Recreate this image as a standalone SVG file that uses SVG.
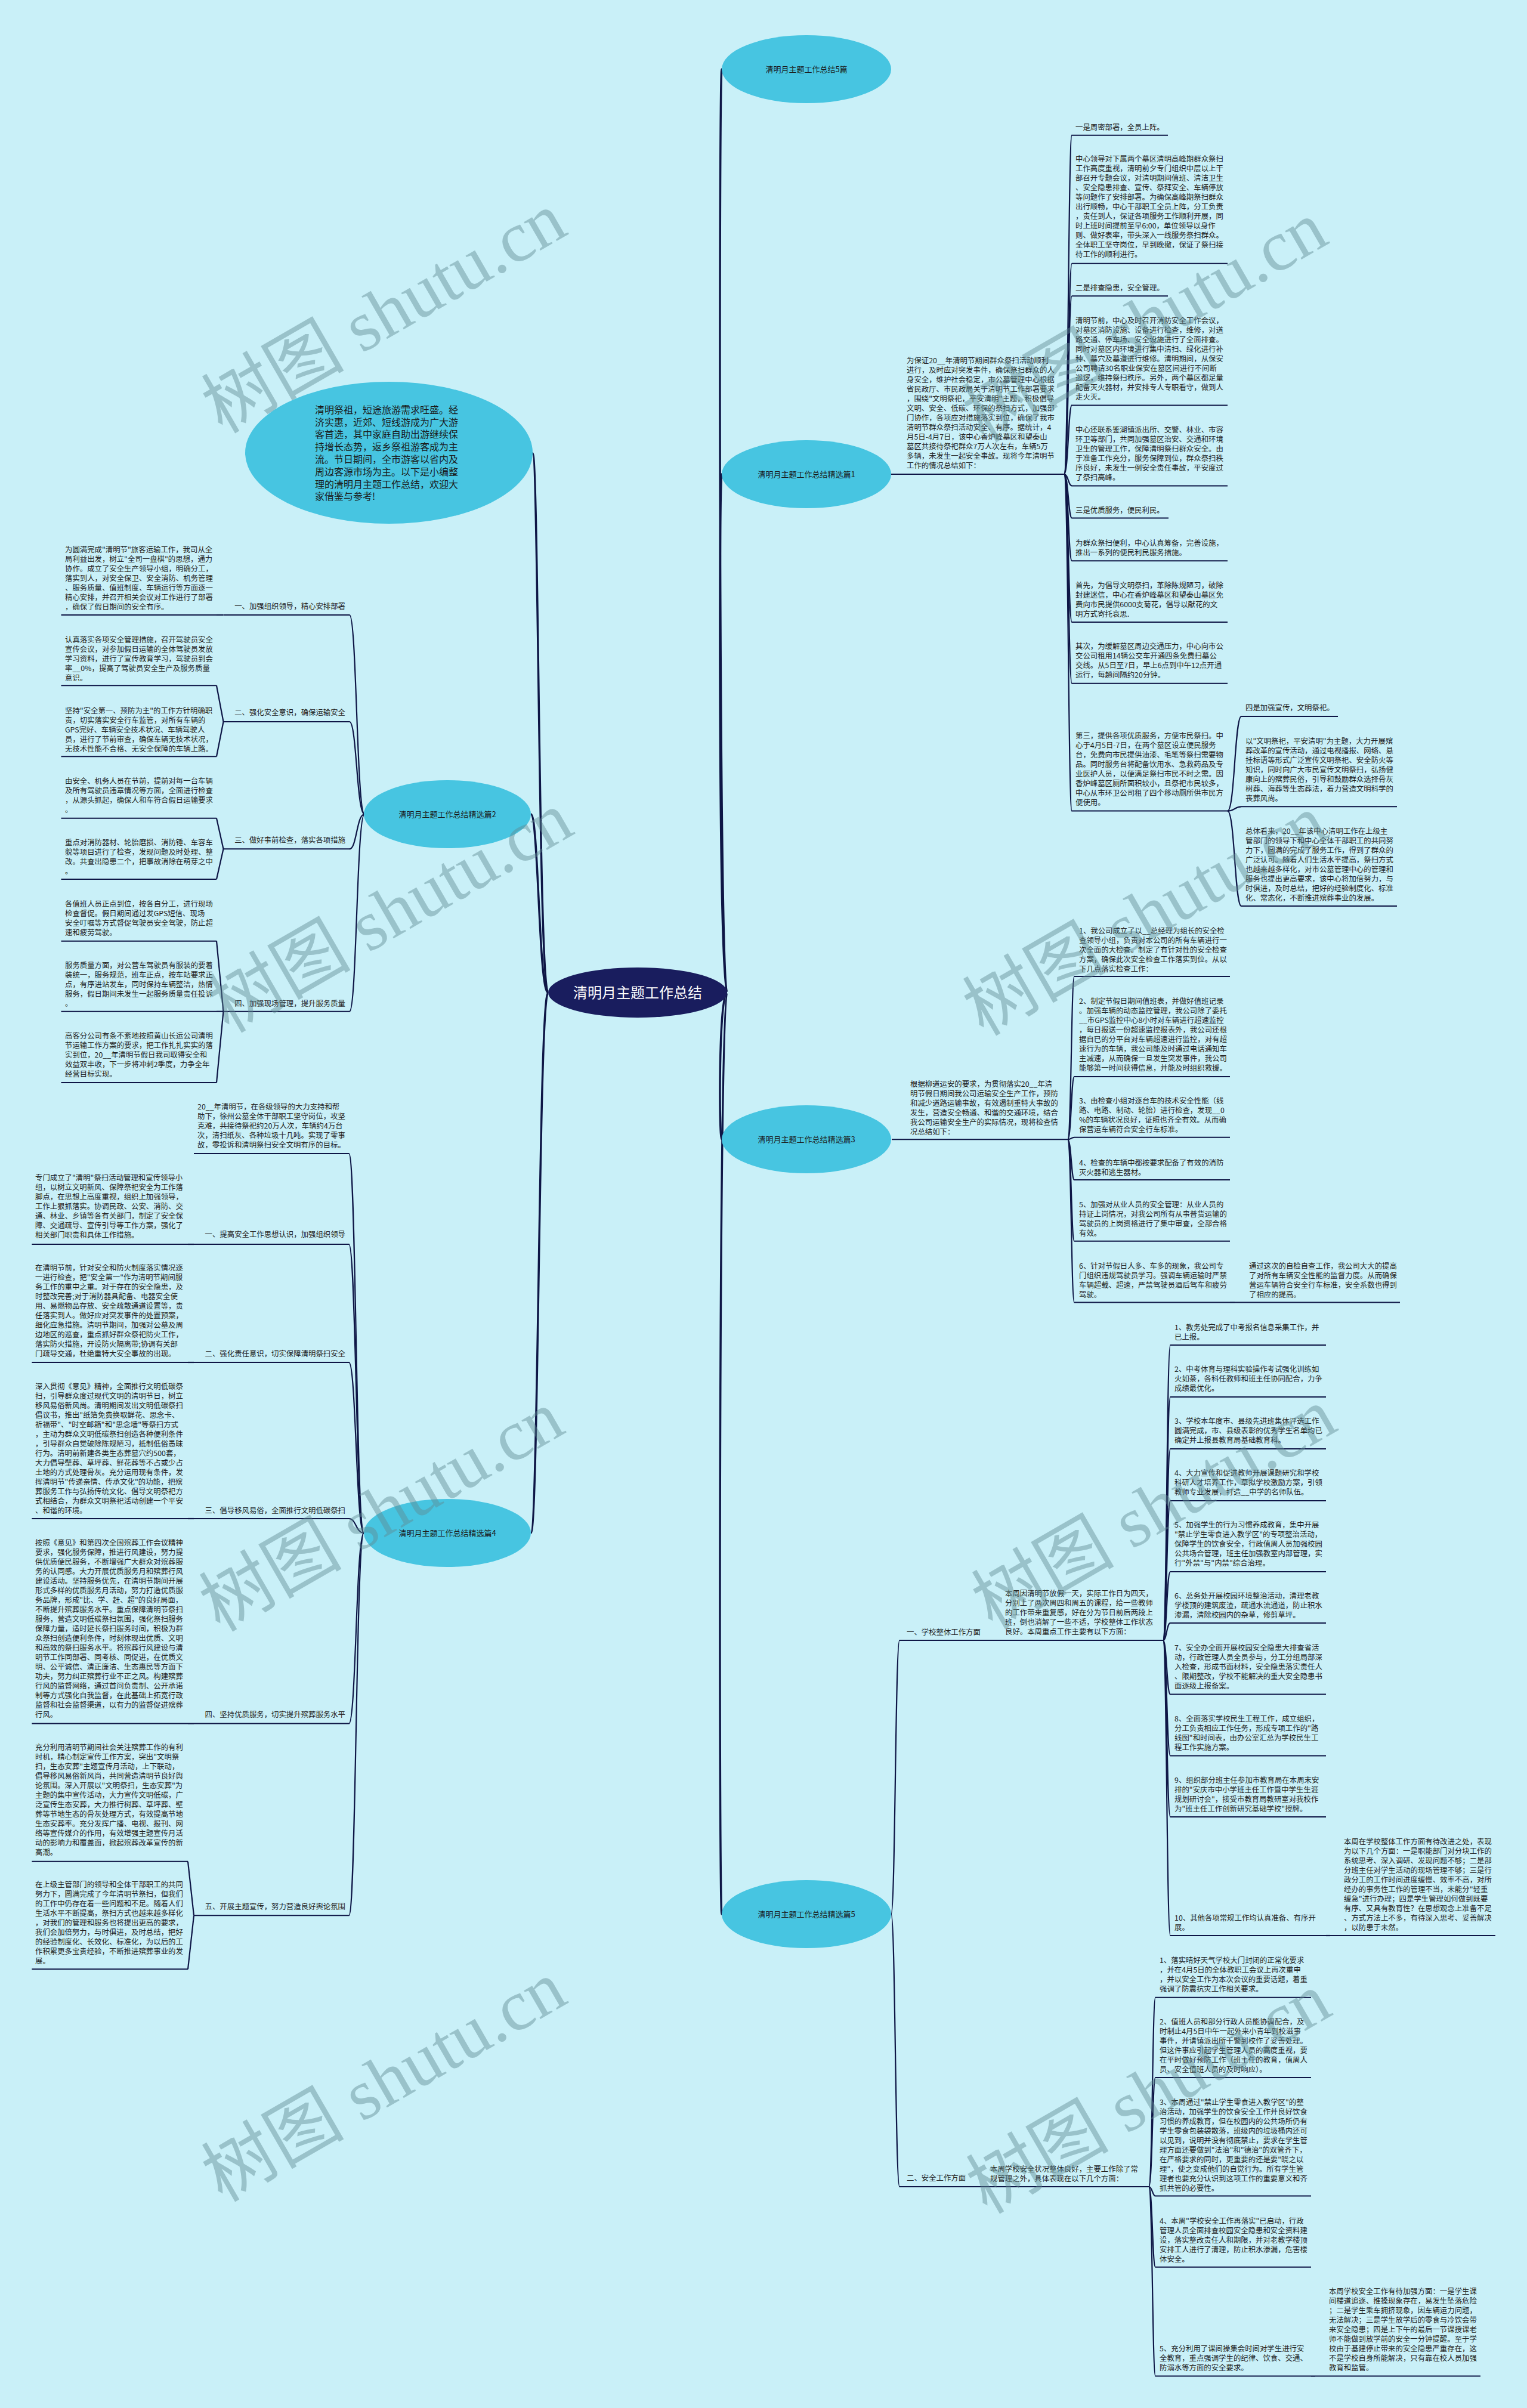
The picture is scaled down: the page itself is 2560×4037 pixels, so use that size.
<svg xmlns="http://www.w3.org/2000/svg" width="2560" height="4037" viewBox="0 0 2560 4037">
<defs>
<style>
.t{font-family:"Noto Sans CJK SC","Liberation Sans",sans-serif;font-size:12.4px;fill:#222}
.lb{font-family:"Noto Sans CJK SC","Liberation Sans",sans-serif;font-size:13px;fill:#1a1a1a;text-anchor:middle}
.ul{stroke:#0e1646;stroke-width:2;fill:none}
.c{stroke:#0e1646;stroke-width:2.2;fill:none}
.m{stroke:#0e1646;stroke-width:3.5;fill:none}
.bn{fill:#47c5e1}
.wm{font-family:"Liberation Serif","Noto Sans CJK SC",serif;font-size:120px;fill:#5f8a92;fill-opacity:0.45;text-anchor:middle}
</style>
</defs>
<rect width="2560" height="4037" fill="#c9f0f8"/>
<g id="connectors">
<path class="m" d="M1219,1664 C1205,1664 1205,116 1210,116"/>
<path class="m" d="M1219,1664 C1205,1664 1205,795 1210,795"/>
<path class="m" d="M1219,1664 C1205,1664 1205,1910 1210,1910"/>
<path class="m" d="M1219,1664 C1205,1664 1205,3209 1210,3209"/>
<path class="m" d="M919,1664 C903,1664 903,760 893,760"/>
<path class="m" d="M919,1664 C903,1664 903,1365 890,1365"/>
<path class="m" d="M919,1664 C903,1664 903,2570 890,2570"/>
<path class="c" d="M1784,795 C1791,795 1791,226.7 1797,226.7"/>
<path class="c" d="M1784,795 C1791,795 1791,441.8 1797,441.8"/>
<path class="c" d="M1784,795 C1791,795 1791,496.3 1797,496.3"/>
<path class="c" d="M1784,795 C1791,795 1791,679.4 1797,679.4"/>
<path class="c" d="M1784,795 C1791,795 1791,814.4 1797,814.4"/>
<path class="c" d="M1784,795 C1791,795 1791,868.5 1797,868.5"/>
<path class="c" d="M1784,795 C1791,795 1791,940.2 1797,940.2"/>
<path class="c" d="M1784,795 C1791,795 1791,1043 1797,1043"/>
<path class="c" d="M1784,795 C1791,795 1791,1145.8 1797,1145.8"/>
<path class="c" d="M1784,795 C1791,795 1791,1359.6 1797,1359.6"/>
<path class="c" d="M2058,1359.6 C2070,1359.6 2070,1201 2081,1201"/>
<path class="c" d="M2058,1359.6 C2070,1359.6 2070,1352.3 2081,1352.3"/>
<path class="c" d="M2058,1359.6 C2070,1359.6 2070,1519 2081,1519"/>
<path class="c" d="M1790,1910.3 C1796,1910.3 1796,1637 1801,1637"/>
<path class="c" d="M1790,1910.3 C1796,1910.3 1796,1805 1801,1805"/>
<path class="c" d="M1790,1910.3 C1796,1910.3 1796,1906.8 1801,1906.8"/>
<path class="c" d="M1790,1910.3 C1796,1910.3 1796,1978 1801,1978"/>
<path class="c" d="M1790,1910.3 C1796,1910.3 1796,2080.7 1801,2080.7"/>
<path class="c" d="M1790,1910.3 C1796,1910.3 1796,2183.5 1801,2183.5"/>
<path class="c" d="M2062,2183.5 H2070"/>
<path class="c" d="M1494,3209 C1501,3209 1501,2750 1508,2750"/>
<path class="c" d="M1494,3209 C1501,3209 1501,3666 1508,3666"/>
<path class="c" d="M1950,2750 C1956,2750 1956,2255 1962,2255"/>
<path class="c" d="M1950,2750 C1956,2750 1956,2342 1962,2342"/>
<path class="c" d="M1950,2750 C1956,2750 1956,2429 1962,2429"/>
<path class="c" d="M1950,2750 C1956,2750 1956,2516 1962,2516"/>
<path class="c" d="M1950,2750 C1956,2750 1956,2635 1962,2635"/>
<path class="c" d="M1950,2750 C1956,2750 1956,2721 1962,2721"/>
<path class="c" d="M1950,2750 C1956,2750 1956,2840.6 1962,2840.6"/>
<path class="c" d="M1950,2750 C1956,2750 1956,2943.4 1962,2943.4"/>
<path class="c" d="M1950,2750 C1956,2750 1956,3046 1962,3046"/>
<path class="c" d="M1950,2750 C1956,2750 1956,3245 1962,3245"/>
<path class="c" d="M2223,3245 H2230"/>
<path class="c" d="M1926,3666 C1932,3666 1932,3348.7 1937,3348.7"/>
<path class="c" d="M1926,3666 C1932,3666 1932,3483 1937,3483"/>
<path class="c" d="M1926,3666 C1932,3666 1932,3681.5 1937,3681.5"/>
<path class="c" d="M1926,3666 C1932,3666 1932,3800.7 1937,3800.7"/>
<path class="c" d="M1926,3666 C1932,3666 1932,3983.6 1937,3983.6"/>
<path class="c" d="M2198,3983.6 H2205"/>
<path class="c" d="M611,1365 C598,1365 598,1031 586,1031"/>
<path class="c" d="M611,1365 C598,1365 598,1210 586,1210"/>
<path class="c" d="M611,1365 C598,1365 598,1423.3 586,1423.3"/>
<path class="c" d="M611,1365 C598,1365 598,1695.7 586,1695.7"/>
<path class="c" d="M374.5,1031 L363,1031"/>
<path class="c" d="M374.5,1210 L363,1149.3"/>
<path class="c" d="M374.5,1210 L363,1268.3"/>
<path class="c" d="M374.5,1423.3 L363,1371.7"/>
<path class="c" d="M374.5,1423.3 L363,1474"/>
<path class="c" d="M374.5,1695.7 L363,1577.7"/>
<path class="c" d="M374.5,1695.7 L363,1695.7"/>
<path class="c" d="M374.5,1695.7 L363,1815"/>
<path class="c" d="M610,2570 C597,2570 597,1934 585,1934"/>
<path class="c" d="M610,2570 C597,2570 597,2086 585,2086"/>
<path class="c" d="M610,2570 C597,2570 597,2284 585,2284"/>
<path class="c" d="M610,2570 C597,2570 597,2546 585,2546"/>
<path class="c" d="M610,2570 C597,2570 597,2889.6 585,2889.6"/>
<path class="c" d="M610,2570 C597,2570 597,3211.3 585,3211.3"/>
<path class="c" d="M325,2086 L315,2086"/>
<path class="c" d="M325,2284 L315,2284"/>
<path class="c" d="M325,2546 L315,2546"/>
<path class="c" d="M325,2889.6 L315,2889.6"/>
<path class="c" d="M325,3211.3 L315,3120.8"/>
<path class="c" d="M325,3211.3 L315,3301.3"/>
</g>

<g id="center">
<ellipse cx="1069" cy="1664" rx="150" ry="42" fill="#191d5e"/>
<text x="1069" y="1672.5" style="font-family:'Noto Sans CJK SC','Liberation Sans',sans-serif;font-size:24px;fill:#ffffff;text-anchor:middle">清明月主题工作总结</text>
</g>

<g id="intro">
<ellipse cx="652" cy="759" rx="241" ry="119" class="bn"/>
<text style="font-family:'Noto Sans CJK SC','Liberation Sans',sans-serif;font-size:16px;fill:#1a1a1a" x="528" y="692.7"><tspan x="528">清明祭祖，短途旅游需求旺盛。经</tspan><tspan x="528" dy="20.8">济实惠，近郊、短线游成为广大游</tspan><tspan x="528" dy="20.8">客首选，其中家庭自助出游继续保</tspan><tspan x="528" dy="20.8">持增长态势，返乡祭祖游客成为主</tspan><tspan x="528" dy="20.8">流。节日期间，全市游客以省内及</tspan><tspan x="528" dy="20.8">周边客源市场为主。以下是小编整</tspan><tspan x="528" dy="20.8">理的清明月主题工作总结，欢迎大</tspan><tspan x="528" dy="20.8">家借鉴与参考!</tspan></text>
</g>

<g id="branch0">
<ellipse cx="1352" cy="116" rx="142" ry="57" class="bn"/>
<text class="lb" x="1352" y="120.6">清明月主题工作总结5篇</text>
</g>

<g id="branch1">
<ellipse cx="1352" cy="795" rx="142" ry="57" class="bn"/>
<text class="lb" x="1352" y="799.6">清明月主题工作总结精选篇1</text>
</g>
<g id="b1-intro">
<text class="t" x="1520" y="609.4"><tspan x="1520">为保证20__年清明节期间群众祭扫活动顺利</tspan><tspan x="1520" dy="16">进行，及时应对突发事件，确保祭扫群众的人</tspan><tspan x="1520" dy="16">身安全，维护社会稳定，市公墓管理中心根据</tspan><tspan x="1520" dy="16">省民政厅、市民政局关于清明节工作部署要求</tspan><tspan x="1520" dy="16">，围绕"文明祭祀，平安清明"主题，积极倡导</tspan><tspan x="1520" dy="16">文明、安全、低碳、环保的祭扫方式，加强部</tspan><tspan x="1520" dy="16">门协作，各项应对措施落实到位，确保了我市</tspan><tspan x="1520" dy="16">清明节群众祭扫活动安全、有序。据统计，4</tspan><tspan x="1520" dy="16">月5日-4月7日，该中心香炉峰墓区和望秦山</tspan><tspan x="1520" dy="16">墓区共接待祭祀群众7万人次左右，车辆5万</tspan><tspan x="1520" dy="16">多辆，未发生一起安全事故。现将今年清明节</tspan><tspan x="1520" dy="16">工作的情况总结如下：</tspan></text>
<path class="ul" d="M1494,795 H1784"/>
</g>
<g id="b1-1">
<text class="t" x="1803" y="218"><tspan x="1803">一是周密部署，全员上阵。</tspan></text>
<path class="ul" d="M1797,226.7 H1958"/>
</g>
<g id="b1-2">
<text class="t" x="1803" y="271.4"><tspan x="1803">中心领导对下属两个墓区清明高峰期群众祭扫</tspan><tspan x="1803" dy="16">工作高度重视，清明前夕专门组织中层以上干</tspan><tspan x="1803" dy="16">部召开专题会议，对清明期间值班、清洁卫生</tspan><tspan x="1803" dy="16">、安全隐患排查、宣传、祭拜安全、车辆停放</tspan><tspan x="1803" dy="16">等问题作了安排部署。为确保高峰期祭扫群众</tspan><tspan x="1803" dy="16">出行顺畅，中心干部职工全员上阵，分工负责</tspan><tspan x="1803" dy="16">，责任到人，保证各项服务工作顺利开展，同</tspan><tspan x="1803" dy="16">时上班时间提前至早6:00，单位领导以身作</tspan><tspan x="1803" dy="16">则、做好表率，带头深入一线服务祭扫群众。</tspan><tspan x="1803" dy="16">全体职工坚守岗位，早到晚撤，保证了祭扫接</tspan><tspan x="1803" dy="16">待工作的顺利进行。</tspan></text>
<path class="ul" d="M1797,441.8 H2058"/>
</g>
<g id="b1-3">
<text class="t" x="1803" y="487"><tspan x="1803">二是排查隐患，安全管理。</tspan></text>
<path class="ul" d="M1797,496.3 H1958"/>
</g>
<g id="b1-4">
<text class="t" x="1803" y="542.2"><tspan x="1803">清明节前，中心及时召开消防安全工作会议，</tspan><tspan x="1803" dy="16">对墓区消防设施、设备进行检查，维修，对道</tspan><tspan x="1803" dy="16">路交通、停车场、安全设施进行了全面排查。</tspan><tspan x="1803" dy="16">同时对墓区内环境进行集中清扫、绿化进行补</tspan><tspan x="1803" dy="16">种、墓穴及墓道进行维修。清明期间，从保安</tspan><tspan x="1803" dy="16">公司聘请30名职业保安在墓区间进行不间断</tspan><tspan x="1803" dy="16">巡逻，维持祭扫秩序。另外，两个墓区都足量</tspan><tspan x="1803" dy="16">配备灭火器材，并安排专人专职看守，做到人</tspan><tspan x="1803" dy="16">走火灭。</tspan></text>
<path class="ul" d="M1797,679.4 H2058"/>
</g>
<g id="b1-5">
<text class="t" x="1803" y="725"><tspan x="1803">中心还联系鉴湖镇派出所、交警、林业、市容</tspan><tspan x="1803" dy="16">环卫等部门，共同加强墓区治安、交通和环境</tspan><tspan x="1803" dy="16">卫生的管理工作，保障清明祭扫群众安全。由</tspan><tspan x="1803" dy="16">于准备工作充分，服务保障到位，群众祭扫秩</tspan><tspan x="1803" dy="16">序良好，未发生一例安全责任事故，平安度过</tspan><tspan x="1803" dy="16">了祭扫高峰。</tspan></text>
<path class="ul" d="M1797,814.4 H2058"/>
</g>
<g id="b1-6">
<text class="t" x="1803" y="859.5"><tspan x="1803">三是优质服务，便民利民。</tspan></text>
<path class="ul" d="M1797,868.5 H1959"/>
</g>
<g id="b1-7">
<text class="t" x="1803" y="914.5"><tspan x="1803">为群众祭扫便利，中心认真筹备，完善设施，</tspan><tspan x="1803" dy="16">推出一系列的便民利民服务措施。</tspan></text>
<path class="ul" d="M1797,940.2 H2058"/>
</g>
<g id="b1-8">
<text class="t" x="1803" y="986.2"><tspan x="1803">首先，为倡导文明祭扫，革除陈规陋习，破除</tspan><tspan x="1803" dy="16">封建迷信，中心在香炉峰墓区和望秦山墓区免</tspan><tspan x="1803" dy="16">费向市民提供6000支菊花，倡导以献花的文</tspan><tspan x="1803" dy="16">明方式寄托哀思.</tspan></text>
<path class="ul" d="M1797,1043 H2058"/>
</g>
<g id="b1-9">
<text class="t" x="1803" y="1088.4"><tspan x="1803">其次，为缓解墓区周边交通压力，中心向市公</tspan><tspan x="1803" dy="16">交公司租用14辆公交车开通四条免费扫墓公</tspan><tspan x="1803" dy="16">交线。从5日至7日，早上6点到中午12点开通</tspan><tspan x="1803" dy="16">运行，每趟间隔约20分钟。</tspan></text>
<path class="ul" d="M1797,1145.8 H2058"/>
</g>
<g id="b1-10">
<text class="t" x="1803" y="1238.4"><tspan x="1803">第三，提供各项优质服务，方便市民祭扫。中</tspan><tspan x="1803" dy="16">心于4月5日-7日，在两个墓区设立便民服务</tspan><tspan x="1803" dy="16">台，免费向市民提供油漆、毛笔等祭扫需要物</tspan><tspan x="1803" dy="16">品。同时服务台将配备饮用水、急救药品及专</tspan><tspan x="1803" dy="16">业医护人员，以便满足祭扫市民不时之需。因</tspan><tspan x="1803" dy="16">香炉峰墓区厕所面积较小，且祭祀市民较多，</tspan><tspan x="1803" dy="16">中心从市环卫公司租了四个移动厕所供市民方</tspan><tspan x="1803" dy="16">便使用。</tspan></text>
<path class="ul" d="M1797,1359.6 H2058"/>
</g>
<g id="b1-11">
<text class="t" x="2088" y="1191"><tspan x="2088">四是加强宣传，文明祭祀。</tspan></text>
<path class="ul" d="M2081,1201 H2243"/>
</g>
<g id="b1-12">
<text class="t" x="2088" y="1247"><tspan x="2088">以"文明祭祀，平安清明"为主题，大力开展殡</tspan><tspan x="2088" dy="16">葬改革的宣传活动，通过电视播报、网络、悬</tspan><tspan x="2088" dy="16">挂标语等形式广泛宣传文明祭祀、安全防火等</tspan><tspan x="2088" dy="16">知识，同时向广大市民宣传文明祭扫，弘扬健</tspan><tspan x="2088" dy="16">康向上的殡葬民俗，引导和鼓励群众选择骨灰</tspan><tspan x="2088" dy="16">树葬、海葬等生态葬法，着力营造文明科学的</tspan><tspan x="2088" dy="16">丧葬风尚。</tspan></text>
<path class="ul" d="M2081,1352.3 H2342"/>
</g>
<g id="b1-13">
<text class="t" x="2088" y="1397.7"><tspan x="2088">总体看来，20__年该中心清明工作在上级主</tspan><tspan x="2088" dy="16">管部门的领导下和中心全体干部职工的共同努</tspan><tspan x="2088" dy="16">力下，圆满的完成了服务工作，得到了群众的</tspan><tspan x="2088" dy="16">广泛认可。随着人们生活水平提高，祭扫方式</tspan><tspan x="2088" dy="16">也越来越多样化，对市公墓管理中心的管理和</tspan><tspan x="2088" dy="16">服务也提出更高要求，该中心将加倍努力，与</tspan><tspan x="2088" dy="16">时俱进，及时总结，把好的经验制度化、标准</tspan><tspan x="2088" dy="16">化、常态化，不断推进殡葬事业的发展。</tspan></text>
<path class="ul" d="M2081,1519 H2342"/>
</g>

<g id="branch3">
<ellipse cx="1352" cy="1910" rx="142" ry="57" class="bn"/>
<text class="lb" x="1352" y="1914.6">清明月主题工作总结精选篇3</text>
</g>
<g id="b3-intro">
<text class="t" x="1526" y="1822"><tspan x="1526">根据柳道运安的要求，为贯彻落实20__年清</tspan><tspan x="1526" dy="16">明节假日期间我公司运输安全生产工作，预防</tspan><tspan x="1526" dy="16">和减少道路运输事故，有效遏制重特大事故的</tspan><tspan x="1526" dy="16">发生，营造安全畅通、和谐的交通环境，结合</tspan><tspan x="1526" dy="16">我公司运输安全生产的实际情况，现将检查情</tspan><tspan x="1526" dy="16">况总结如下：</tspan></text>
<path class="ul" d="M1495,1910.3 H1790"/>
</g>
<g id="b3-1">
<text class="t" x="1809" y="1564.5"><tspan x="1809">1、我公司成立了以__总经理为组长的安全检</tspan><tspan x="1809" dy="16">查领导小组，负责对本公司的所有车辆进行一</tspan><tspan x="1809" dy="16">次全面的大检查。制定了有针对性的安全检查</tspan><tspan x="1809" dy="16">方案，确保此次安全检查工作落实到位。从以</tspan><tspan x="1809" dy="16">下几点落实检查工作：</tspan></text>
<path class="ul" d="M1801,1637 H2062"/>
</g>
<g id="b3-2">
<text class="t" x="1809" y="1683"><tspan x="1809">2、制定节假日期间值班表，并做好值班记录</tspan><tspan x="1809" dy="16">。加强车辆的动态监控管理，我公司除了委托</tspan><tspan x="1809" dy="16">__市GPS监控中心8小时对车辆进行超速监控</tspan><tspan x="1809" dy="16">，每日报送一份超速监控报表外，我公司还根</tspan><tspan x="1809" dy="16">据自已的分平台对车辆超速进行监控，对有超</tspan><tspan x="1809" dy="16">速行为的车辆，我公司能及时通过电话通知车</tspan><tspan x="1809" dy="16">主减速，从而确保一旦发生突发事件，我公司</tspan><tspan x="1809" dy="16">能够第一时间获得信息，并能及时组织救援。</tspan></text>
<path class="ul" d="M1801,1805 H2062"/>
</g>
<g id="b3-3">
<text class="t" x="1809" y="1850"><tspan x="1809">3、由检查小组对逐台车的技术安全性能（线</tspan><tspan x="1809" dy="16">路、电路、制动、轮胎）进行检查，发现__0</tspan><tspan x="1809" dy="16">%的车辆状况良好，证照也齐全有效。从而确</tspan><tspan x="1809" dy="16">保营运车辆符合安全行车标准。</tspan></text>
<path class="ul" d="M1801,1906.8 H2062"/>
</g>
<g id="b3-4">
<text class="t" x="1809" y="1953.7"><tspan x="1809">4、检查的车辆中都按要求配备了有效的消防</tspan><tspan x="1809" dy="16">灭火器和逃生器材。</tspan></text>
<path class="ul" d="M1801,1978 H2062"/>
</g>
<g id="b3-5">
<text class="t" x="1809" y="2024"><tspan x="1809">5、加强对从业人员的安全管理：从业人员的</tspan><tspan x="1809" dy="16">持证上岗情况，对我公司所有从事普货运输的</tspan><tspan x="1809" dy="16">驾驶员的上岗资格进行了集中审查，全部合格</tspan><tspan x="1809" dy="16">有效。</tspan></text>
<path class="ul" d="M1801,2080.7 H2062"/>
</g>
<g id="b3-6">
<text class="t" x="1809" y="2127.2"><tspan x="1809">6、针对节假日人多、车多的现象，我公司专</tspan><tspan x="1809" dy="16">门组织违规驾驶员学习。强调车辆运输时严禁</tspan><tspan x="1809" dy="16">车辆超载、超速，严禁驾驶员酒后驾车和疲劳</tspan><tspan x="1809" dy="16">驾驶。</tspan></text>
<path class="ul" d="M1801,2183.5 H2062"/>
</g>
<g id="b3-7">
<text class="t" x="2094" y="2127.2"><tspan x="2094">通过这次的自检自查工作，我公司大大的提高</tspan><tspan x="2094" dy="16">了对所有车辆安全性能的监督力度。从而确保</tspan><tspan x="2094" dy="16">营运车辆符合安全行车标准，安全系数也得到</tspan><tspan x="2094" dy="16">了相应的提高。</tspan></text>
<path class="ul" d="M2070,2183.5 H2347"/>
</g>

<g id="branch5">
<ellipse cx="1352" cy="3209" rx="142" ry="57" class="bn"/>
<text class="lb" x="1352" y="3213.6">清明月主题工作总结精选篇5</text>
</g>
<g id="b5-a">
<text class="t" x="1520" y="2740.5"><tspan x="1520">一、学校整体工作方面</tspan></text>
<path class="ul" d="M1508,2750 H1652"/>
</g>
<g id="b5-a0">
<text class="t" x="1685" y="2676.4"><tspan x="1685">本周因清明节放假一天，实际工作日为四天，</tspan><tspan x="1685" dy="16">分别上了两次周四和周五的课程，给一些教师</tspan><tspan x="1685" dy="16">的工作带来重复感，好在分为节日前后两段上</tspan><tspan x="1685" dy="16">班，倒也消解了一些不适，学校整体工作状态</tspan><tspan x="1685" dy="16">良好。本周重点工作主要有以下方面：</tspan></text>
<path class="ul" d="M1652,2750 H1950"/>
</g>
<g id="b5-a1">
<text class="t" x="1969" y="2229.8"><tspan x="1969">1、教务处完成了中考报名信息采集工作，并</tspan><tspan x="1969" dy="16">已上报。</tspan></text>
<path class="ul" d="M1962,2255 H2223"/>
</g>
<g id="b5-a2">
<text class="t" x="1969" y="2300.4"><tspan x="1969">2、中考体育与理科实验操作考试强化训练如</tspan><tspan x="1969" dy="16">火如荼，各科任教师和班主任协同配合，力争</tspan><tspan x="1969" dy="16">成绩最优化。</tspan></text>
<path class="ul" d="M1962,2342 H2223"/>
</g>
<g id="b5-a3">
<text class="t" x="1969" y="2387.4"><tspan x="1969">3、学校本年度市、县级先进班集体评选工作</tspan><tspan x="1969" dy="16">圆满完成，市、县级表彰的优秀学生名单均已</tspan><tspan x="1969" dy="16">确定并上报县教育局基础教育科。</tspan></text>
<path class="ul" d="M1962,2429 H2223"/>
</g>
<g id="b5-a4">
<text class="t" x="1969" y="2474.4"><tspan x="1969">4、大力宣传和促进教师开展课题研究和学校</tspan><tspan x="1969" dy="16">科研人才培养工作，草拟学校激励方案，引领</tspan><tspan x="1969" dy="16">教师专业发展，打造__中学的名师队伍。</tspan></text>
<path class="ul" d="M1962,2516 H2223"/>
</g>
<g id="b5-a5">
<text class="t" x="1969" y="2561.4"><tspan x="1969">5、加强学生的行为习惯养成教育，集中开展</tspan><tspan x="1969" dy="16">"禁止学生零食进入教学区"的专项整治活动，</tspan><tspan x="1969" dy="16">保障学生的饮食安全，行政值周人员加强校园</tspan><tspan x="1969" dy="16">公共场合管理，班主任加强教室内部管理，实</tspan><tspan x="1969" dy="16">行"外禁"与"内禁"综合治理。</tspan></text>
<path class="ul" d="M1962,2635 H2223"/>
</g>
<g id="b5-a6">
<text class="t" x="1969" y="2680.4"><tspan x="1969">6、总务处开展校园环境整治活动，清理老教</tspan><tspan x="1969" dy="16">学楼顶的建筑废渣，疏通水流通道，防止积水</tspan><tspan x="1969" dy="16">渗漏，清除校园内的杂草，修剪草坪。</tspan></text>
<path class="ul" d="M1962,2721 H2223"/>
</g>
<g id="b5-a7">
<text class="t" x="1969" y="2767.4"><tspan x="1969">7、安全办全面开展校园安全隐患大排查省活</tspan><tspan x="1969" dy="16">动，行政管理人员全员参与，分工分组局部深</tspan><tspan x="1969" dy="16">入检查，形成书面材料，安全隐患落实责任人</tspan><tspan x="1969" dy="16">、限期整改，学校不能解决的重大安全隐患书</tspan><tspan x="1969" dy="16">面逐级上报备案。</tspan></text>
<path class="ul" d="M1962,2840.6 H2223"/>
</g>
<g id="b5-a8">
<text class="t" x="1969" y="2886.4"><tspan x="1969">8、全面落实学校民生工程工作，成立组织，</tspan><tspan x="1969" dy="16">分工负责相应工作任务，形成专项工作的"路</tspan><tspan x="1969" dy="16">线图"和时间表，由办公室汇总为学校民生工</tspan><tspan x="1969" dy="16">程工作实施方案。</tspan></text>
<path class="ul" d="M1962,2943.4 H2223"/>
</g>
<g id="b5-a9">
<text class="t" x="1969" y="2989.4"><tspan x="1969">9、组织部分班主任参加市教育局在本周末安</tspan><tspan x="1969" dy="16">排的"安庆市中小学班主任工作暨中学生生涯</tspan><tspan x="1969" dy="16">规划研讨会"，接受市教育局教研室对我校作</tspan><tspan x="1969" dy="16">为"班主任工作创新研究基础学校"授牌。</tspan></text>
<path class="ul" d="M1962,3046 H2223"/>
</g>
<g id="b5-a10">
<text class="t" x="1969" y="3220.4"><tspan x="1969">10、其他各项常规工作均认真准备、有序开</tspan><tspan x="1969" dy="16">展。</tspan></text>
<path class="ul" d="M1962,3245 H2223"/>
</g>
<g id="b5-a11">
<text class="t" x="2253" y="3092"><tspan x="2253">本周在学校整体工作方面有待改进之处，表现</tspan><tspan x="2253" dy="16">为以下几个方面：一是职能部门对分块工作的</tspan><tspan x="2253" dy="16">系统思考、深入调研、发现问题不够；二是部</tspan><tspan x="2253" dy="16">分班主任对学生活动的现场管理不够；三是行</tspan><tspan x="2253" dy="16">政分工的工作时间进度缓慢、效率不高，对所</tspan><tspan x="2253" dy="16">经办的事务性工作的管理不当，未能分"轻重</tspan><tspan x="2253" dy="16">缓急"进行办理；四是学生管理如何做到既要</tspan><tspan x="2253" dy="16">有序、又具有教育性？在思想观念上准备不足</tspan><tspan x="2253" dy="16">、方式方法上不多，有待深入思考、妥善解决</tspan><tspan x="2253" dy="16">，以防患于未然。</tspan></text>
<path class="ul" d="M2230,3245 H2507"/>
</g>
<g id="b5-b">
<text class="t" x="1520" y="3656.4"><tspan x="1520">二、安全工作方面</tspan></text>
<path class="ul" d="M1508,3666 H1640"/>
</g>
<g id="b5-b0">
<text class="t" x="1660" y="3640.7"><tspan x="1660">本周学校安全状况整体良好，主要工作除了常</tspan><tspan x="1660" dy="16">规管理之外，具体表现在以下几个方面：</tspan></text>
<path class="ul" d="M1640,3666 H1926"/>
</g>
<g id="b5-b1">
<text class="t" x="1944" y="3291"><tspan x="1944">1、落实晴好天气学校大门封闭的正常化要求</tspan><tspan x="1944" dy="16">，并在4月5日的全体教职工会议上再次重申</tspan><tspan x="1944" dy="16">，并以安全工作为本次会议的重要话题，着重</tspan><tspan x="1944" dy="16">强调了防震抗灾工作相关要求。</tspan></text>
<path class="ul" d="M1937,3348.7 H2198"/>
</g>
<g id="b5-b2">
<text class="t" x="1944" y="3394.4"><tspan x="1944">2、值班人员和部分行政人员能协调配合，及</tspan><tspan x="1944" dy="16">时制止4月5日中午一起外来小青年到校滋事</tspan><tspan x="1944" dy="16">事件，并请镇派出所干警到校作了妥善处理。</tspan><tspan x="1944" dy="16">但这件事应引起学生管理人员的高度重视，要</tspan><tspan x="1944" dy="16">在平时做好预防工作（班主任的教育，值周人</tspan><tspan x="1944" dy="16">员、安全值班人员的及时响应）。</tspan></text>
<path class="ul" d="M1937,3483 H2198"/>
</g>
<g id="b5-b3">
<text class="t" x="1944" y="3529"><tspan x="1944">3、本周通过"禁止学生零食进入教学区"的整</tspan><tspan x="1944" dy="16">治活动，加强学生的饮食安全工作并良好饮食</tspan><tspan x="1944" dy="16">习惯的养成教育，但在校园内的公共场所仍有</tspan><tspan x="1944" dy="16">学生零食包装袋散落，班级内的垃圾桶内还可</tspan><tspan x="1944" dy="16">以见到，说明并没有彻底禁止，要求在学生管</tspan><tspan x="1944" dy="16">理方面还要做到"法治"和"德治"的双管齐下，</tspan><tspan x="1944" dy="16">在严格要求的同时，更重要的还是要"晓之以</tspan><tspan x="1944" dy="16">理"，使之变成他们的自觉行为。所有学生管</tspan><tspan x="1944" dy="16">理者也要充分认识到这项工作的重要意义和齐</tspan><tspan x="1944" dy="16">抓共管的必要性。</tspan></text>
<path class="ul" d="M1937,3681.5 H2198"/>
</g>
<g id="b5-b4">
<text class="t" x="1944" y="3727.7"><tspan x="1944">4、本周"学校安全工作再落实"已启动，行政</tspan><tspan x="1944" dy="16">管理人员全面排查校园安全隐患和安全资料建</tspan><tspan x="1944" dy="16">设，落实整改责任人和期限，并对老教学楼顶</tspan><tspan x="1944" dy="16">安排工人进行了清理，防止积水渗漏，危害楼</tspan><tspan x="1944" dy="16">体安全。</tspan></text>
<path class="ul" d="M1937,3800.7 H2198"/>
</g>
<g id="b5-b5">
<text class="t" x="1944" y="3942"><tspan x="1944">5、充分利用了课间操集会时间对学生进行安</tspan><tspan x="1944" dy="16">全教育，重点强调学生的纪律、饮食、交通、</tspan><tspan x="1944" dy="16">防溺水等方面的安全要求。</tspan></text>
<path class="ul" d="M1937,3983.6 H2198"/>
</g>
<g id="b5-b6">
<text class="t" x="2228" y="3846.2"><tspan x="2228">本周学校安全工作有待加强方面：一是学生课</tspan><tspan x="2228" dy="16">间楼道追逐、推搡现象存在，易发生坠落危险</tspan><tspan x="2228" dy="16">；二是学生乘车拥挤现象，因车辆运力问题，</tspan><tspan x="2228" dy="16">无法解决；三是学生放学后的零食与冷饮会带</tspan><tspan x="2228" dy="16">来安全隐患；四是上下午的最后一节课授课老</tspan><tspan x="2228" dy="16">师不能做到放学前的安全一分钟提醒。至于学</tspan><tspan x="2228" dy="16">校由于基建停止带来的安全隐患严重存在，这</tspan><tspan x="2228" dy="16">不是学校自身所能解决，只有靠在校人员加强</tspan><tspan x="2228" dy="16">教育和监管。</tspan></text>
<path class="ul" d="M2205,3983.6 H2482"/>
</g>

<g id="branch2">
<ellipse cx="750" cy="1365" rx="140" ry="57" class="bn"/>
<text class="lb" x="750" y="1369.6">清明月主题工作总结精选篇2</text>
</g>
<g id="b2-l1">
<text class="t" x="579" y="1021" text-anchor="end">一、加强组织领导，精心安排部署</text>
<path class="ul" d="M374.5,1031 H586"/>
</g>
<g id="b2-l1a">
<text class="t" x="109" y="926"><tspan x="109">为圆满完成"清明节"旅客运输工作，我司从全</tspan><tspan x="109" dy="16">局利益出发，树立"全司一盘棋"的思想，通力</tspan><tspan x="109" dy="16">协作。成立了安全生产领导小组，明确分工，</tspan><tspan x="109" dy="16">落实到人，对安全保卫、安全消防、机务管理</tspan><tspan x="109" dy="16">、服务质量、值班制度、车辆运行等方面逐一</tspan><tspan x="109" dy="16">精心安排，并召开相关会议对工作进行了部署</tspan><tspan x="109" dy="16">，确保了假日期间的安全有序。</tspan></text>
<path class="ul" d="M102.5,1031 H363"/>
</g>
<g id="b2-l2">
<text class="t" x="579" y="1199.4" text-anchor="end">二、强化安全意识，确保运输安全</text>
<path class="ul" d="M374.5,1210 H586"/>
</g>
<g id="b2-l2a">
<text class="t" x="109" y="1076.7"><tspan x="109">认真落实各项安全管理措施，召开驾驶员安全</tspan><tspan x="109" dy="16">宣传会议，对参加假日运输的全体驾驶员发放</tspan><tspan x="109" dy="16">学习资料，进行了宣传教育学习，驾驶员到会</tspan><tspan x="109" dy="16">率__0%，提高了驾驶员安全生产及服务质量</tspan><tspan x="109" dy="16">意识。</tspan></text>
<path class="ul" d="M102.5,1149.3 H363"/>
</g>
<g id="b2-l2b">
<text class="t" x="109" y="1196"><tspan x="109">坚持"安全第一、预防为主"的工作方针明确职</tspan><tspan x="109" dy="16">责，切实落实安全行车监管，对所有车辆的</tspan><tspan x="109" dy="16">GPS完好、车辆安全技术状况、车辆驾驶人</tspan><tspan x="109" dy="16">员，进行了节前审查，确保车辆无技术状况，</tspan><tspan x="109" dy="16">无技术性能不合格、无安全保障的车辆上路。</tspan></text>
<path class="ul" d="M102.5,1268.3 H363"/>
</g>
<g id="b2-l3">
<text class="t" x="579" y="1413.4" text-anchor="end">三、做好事前检查，落实各项措施</text>
<path class="ul" d="M374.5,1423.3 H586"/>
</g>
<g id="b2-l3a">
<text class="t" x="109" y="1314.4"><tspan x="109">由安全、机务人员在节前，提前对每一台车辆</tspan><tspan x="109" dy="16">及所有驾驶员违章情况等方面，全面进行检查</tspan><tspan x="109" dy="16">，从源头抓起，确保人和车符合假日运输要求</tspan><tspan x="109" dy="16">。</tspan></text>
<path class="ul" d="M102.5,1371.7 H363"/>
</g>
<g id="b2-l3b">
<text class="t" x="109" y="1417"><tspan x="109">重点对消防器材、轮胎磨损、消防锤、车容车</tspan><tspan x="109" dy="16">貌等项目进行了检查，发现问题及时处理、整</tspan><tspan x="109" dy="16">改。共查出隐患二个，把事故消除在萌芽之中</tspan><tspan x="109" dy="16">。</tspan></text>
<path class="ul" d="M102.5,1474 H363"/>
</g>
<g id="b2-l4">
<text class="t" x="579" y="1686.7" text-anchor="end">四、加强现场管理，提升服务质量</text>
<path class="ul" d="M374.5,1695.7 H586"/>
</g>
<g id="b2-l4a">
<text class="t" x="109" y="1520.4"><tspan x="109">各值班人员正点到位，按各自分工，进行现场</tspan><tspan x="109" dy="16">检查督促。假日期间通过发GPS短信、现场</tspan><tspan x="109" dy="16">安全叮嘱等方式督促驾驶员安全驾驶，防止超</tspan><tspan x="109" dy="16">速和疲劳驾驶。</tspan></text>
<path class="ul" d="M102.5,1577.7 H363"/>
</g>
<g id="b2-l4b">
<text class="t" x="109" y="1623"><tspan x="109">服务质量方面，对公营车驾驶员有服装的要着</tspan><tspan x="109" dy="16">装统一，服务规范，班车正点，按车站要求正</tspan><tspan x="109" dy="16">点，有序进站发车，同时保持车辆整洁，热情</tspan><tspan x="109" dy="16">服务，假日期间未发生一起服务质量责任投诉</tspan><tspan x="109" dy="16">。</tspan></text>
<path class="ul" d="M102.5,1695.7 H363"/>
</g>
<g id="b2-l4c">
<text class="t" x="109" y="1741"><tspan x="109">高客分公司有条不紊地按照黄山长运公司清明</tspan><tspan x="109" dy="16">节运输工作方案的要求，把工作扎扎实实的落</tspan><tspan x="109" dy="16">实到位，20__年清明节假日我司取得安全和</tspan><tspan x="109" dy="16">效益双丰收，下一步将冲刺2季度，力争全年</tspan><tspan x="109" dy="16">经营目标实现。</tspan></text>
<path class="ul" d="M102.5,1815 H363"/>
</g>

<g id="branch4">
<ellipse cx="750" cy="2570" rx="140" ry="57" class="bn"/>
<text class="lb" x="750" y="2574.6">清明月主题工作总结精选篇4</text>
</g>
<g id="b4-0">
<text class="t" x="331" y="1860.4"><tspan x="331">20__年清明节，在各级领导的大力支持和帮</tspan><tspan x="331" dy="16">助下，徐州公墓全体干部职工坚守岗位，攻坚</tspan><tspan x="331" dy="16">克难，共接待祭祀约20万人次，车辆约4万台</tspan><tspan x="331" dy="16">次，清扫纸灰、各种垃圾十几吨。实现了零事</tspan><tspan x="331" dy="16">故，零投诉和清明祭扫安全文明有序的目标。</tspan></text>
<path class="ul" d="M325,1934 H585"/>
</g>
<g id="b4-l1">
<text class="t" x="579" y="2074.2" text-anchor="end">一、提高安全工作思想认识，加强组织领导</text>
<path class="ul" d="M325,2086 H585"/>
</g>
<g id="b4-l1a">
<text class="t" x="59" y="1979.4"><tspan x="59">专门成立了"清明"祭扫活动管理和宣传领导小</tspan><tspan x="59" dy="16">组，以树立文明新风、保障祭祀安全为工作落</tspan><tspan x="59" dy="16">脚点，在思想上高度重视，组织上加强领导，</tspan><tspan x="59" dy="16">工作上狠抓落实。协调民政、公安、消防、交</tspan><tspan x="59" dy="16">通、林业、乡镇等各有关部门，制定了安全保</tspan><tspan x="59" dy="16">障、交通疏导、宣传引导等工作方案，强化了</tspan><tspan x="59" dy="16">相关部门职责和具体工作措施。</tspan></text>
<path class="ul" d="M53.4,2086 H315"/>
</g>
<g id="b4-l2">
<text class="t" x="579" y="2273.7" text-anchor="end">二、强化责任意识，切实保障清明祭扫安全</text>
<path class="ul" d="M325,2284 H585"/>
</g>
<g id="b4-l2a">
<text class="t" x="59" y="2130.4"><tspan x="59">在清明节前，针对安全和防火制度落实情况逐</tspan><tspan x="59" dy="16">一进行检查，把"安全第一"作为清明节期间服</tspan><tspan x="59" dy="16">务工作的重中之重。对于存在的安全隐患，及</tspan><tspan x="59" dy="16">时整改完善;对于消防器具配备、电器安全使</tspan><tspan x="59" dy="16">用、易燃物品存放、安全疏散通道设置等，责</tspan><tspan x="59" dy="16">任落实到人。做好应对突发事件的处置预案，</tspan><tspan x="59" dy="16">细化应急措施。清明节期间，加强对公墓及周</tspan><tspan x="59" dy="16">边地区的巡查，重点抓好群众祭祀防火工作，</tspan><tspan x="59" dy="16">落实防火措施，开设防火隔离带;协调有关部</tspan><tspan x="59" dy="16">门疏导交通，杜绝重特大安全事故的出现。</tspan></text>
<path class="ul" d="M53.4,2284 H315"/>
</g>
<g id="b4-l3">
<text class="t" x="579" y="2536.8" text-anchor="end">三、倡导移风易俗，全面推行文明低碳祭扫</text>
<path class="ul" d="M325,2546 H585"/>
</g>
<g id="b4-l3a">
<text class="t" x="59" y="2328.8"><tspan x="59">深入贯彻《意见》精神，全面推行文明低碳祭</tspan><tspan x="59" dy="16">扫，引导群众度过现代文明的清明节日，树立</tspan><tspan x="59" dy="16">移风易俗新风尚。清明期间发出文明低碳祭扫</tspan><tspan x="59" dy="16">倡议书，推出"纸箔免费换取鲜花、思念卡、</tspan><tspan x="59" dy="16">祈福带"、"时空邮箱"和"思念墙"等祭扫方式</tspan><tspan x="59" dy="16">，主动为群众文明低碳祭扫创造各种便利条件</tspan><tspan x="59" dy="16">，引导群众自觉破除陈规陋习，抵制低俗愚昧</tspan><tspan x="59" dy="16">行为。清明前新建各类生态葬墓穴约500套，</tspan><tspan x="59" dy="16">大力倡导壁葬、草坪葬、鲜花葬等不占或少占</tspan><tspan x="59" dy="16">土地的方式处理骨灰。充分运用现有条件，发</tspan><tspan x="59" dy="16">挥清明节"传递亲情、传承文化"的功能，把殡</tspan><tspan x="59" dy="16">葬服务工作与弘扬传统文化、倡导文明祭祀方</tspan><tspan x="59" dy="16">式相结合，为群众文明祭祀活动创建一个平安</tspan><tspan x="59" dy="16">、和谐的环境。</tspan></text>
<path class="ul" d="M53.4,2546 H315"/>
</g>
<g id="b4-l4">
<text class="t" x="579" y="2879.4" text-anchor="end">四、坚持优质服务，切实提升殡葬服务水平</text>
<path class="ul" d="M325,2889.6 H585"/>
</g>
<g id="b4-l4a">
<text class="t" x="59" y="2590.7"><tspan x="59">按照《意见》和第四次全国殡葬工作会议精神</tspan><tspan x="59" dy="16">要求，强化服务保障，推进行风建设，努力提</tspan><tspan x="59" dy="16">供优质便民服务，不断增强广大群众对殡葬服</tspan><tspan x="59" dy="16">务的认同感。大力开展优质服务月和殡葬行风</tspan><tspan x="59" dy="16">建设活动。坚持服务优先，在清明节期间开展</tspan><tspan x="59" dy="16">形式多样的优质服务月活动，努力打造优质服</tspan><tspan x="59" dy="16">务品牌，形成"比、学、赶、超"的良好局面，</tspan><tspan x="59" dy="16">不断提升殡葬服务水平。重点保障清明节祭扫</tspan><tspan x="59" dy="16">服务，营造文明低碳祭扫氛围，强化祭扫服务</tspan><tspan x="59" dy="16">保障力量，适时延长祭扫服务时间，积极为群</tspan><tspan x="59" dy="16">众祭扫创造便利条件，时刻体现出优质、文明</tspan><tspan x="59" dy="16">和高效的祭扫服务水平。将殡葬行风建设与清</tspan><tspan x="59" dy="16">明节工作同部署、同考核、同促进，在优质文</tspan><tspan x="59" dy="16">明、公平诚信、清正廉洁、生态惠民等方面下</tspan><tspan x="59" dy="16">功夫，努力纠正殡葬行业不正之风。构建殡葬</tspan><tspan x="59" dy="16">行风的监督网络，通过首问负责制、公开承诺</tspan><tspan x="59" dy="16">制等方式强化自我监督，在此基础上拓宽行政</tspan><tspan x="59" dy="16">监督和社会监督渠道，以有力的监督促进殡葬</tspan><tspan x="59" dy="16">行风。</tspan></text>
<path class="ul" d="M53.4,2889.6 H315"/>
</g>
<g id="b4-l5">
<text class="t" x="579" y="3201" text-anchor="end">五、开展主题宣传，努力营造良好舆论氛围</text>
<path class="ul" d="M325,3211.3 H585"/>
</g>
<g id="b4-l5a">
<text class="t" x="59" y="2934.4"><tspan x="59">充分利用清明节期间社会关注殡葬工作的有利</tspan><tspan x="59" dy="16">时机，精心制定宣传工作方案，突出"文明祭</tspan><tspan x="59" dy="16">扫，生态安葬"主题宣传月活动，上下联动，</tspan><tspan x="59" dy="16">倡导移风易俗新风尚，共同营造清明节良好舆</tspan><tspan x="59" dy="16">论氛围。深入开展以"文明祭扫，生态安葬"为</tspan><tspan x="59" dy="16">主题的集中宣传活动，大力宣传文明低碳，广</tspan><tspan x="59" dy="16">泛宣传生态安葬，大力推行树葬、草坪葬、壁</tspan><tspan x="59" dy="16">葬等节地生态的骨灰处理方式，有效提高节地</tspan><tspan x="59" dy="16">生态安葬率。充分发挥广播、电视、报刊、网</tspan><tspan x="59" dy="16">络等宣传媒介的作用，有效增强主题宣传月活</tspan><tspan x="59" dy="16">动的影响力和覆盖面，掀起殡葬改革宣传的新</tspan><tspan x="59" dy="16">高潮。</tspan></text>
<path class="ul" d="M53.4,3120.8 H315"/>
</g>
<g id="b4-l5b">
<text class="t" x="59" y="3164.4"><tspan x="59">在上级主管部门的领导和全体干部职工的共同</tspan><tspan x="59" dy="16">努力下，圆满完成了今年清明节祭扫，但我们</tspan><tspan x="59" dy="16">的工作中仍存在着一些问题和不足。随着人们</tspan><tspan x="59" dy="16">生活水平不断提高，祭扫方式也越来越多样化</tspan><tspan x="59" dy="16">，对我们的管理和服务也将提出更高的要求，</tspan><tspan x="59" dy="16">我们会加倍努力，与时俱进，及时总结，把好</tspan><tspan x="59" dy="16">的经验制度化、长效化、标准化，为以后的工</tspan><tspan x="59" dy="16">作积累更多宝贵经验，不断推进殡葬事业的发</tspan><tspan x="59" dy="16">展。</tspan></text>
<path class="ul" d="M53.4,3301.3 H315"/>
</g>

<g id="watermarks">
<text class="wm" x="644" y="565" transform="rotate(-30 644 525)">树图 shutu.cn</text>
<text class="wm" x="1920" y="580" transform="rotate(-30 1920 540)">树图 shutu.cn</text>
<text class="wm" x="655" y="1570" transform="rotate(-30 655 1530)">树图 shutu.cn</text>
<text class="wm" x="1920" y="1575" transform="rotate(-30 1920 1535)">树图 shutu.cn</text>
<text class="wm" x="640" y="2574" transform="rotate(-30 640 2534)">树图 shutu.cn</text>
<text class="wm" x="1935" y="2570" transform="rotate(-30 1935 2530)">树图 shutu.cn</text>
<text class="wm" x="644" y="3530" transform="rotate(-30 644 3490)">树图 shutu.cn</text>
<text class="wm" x="1926" y="3550" transform="rotate(-30 1926 3510)">树图 shutu.cn</text>
</g>
</svg>
